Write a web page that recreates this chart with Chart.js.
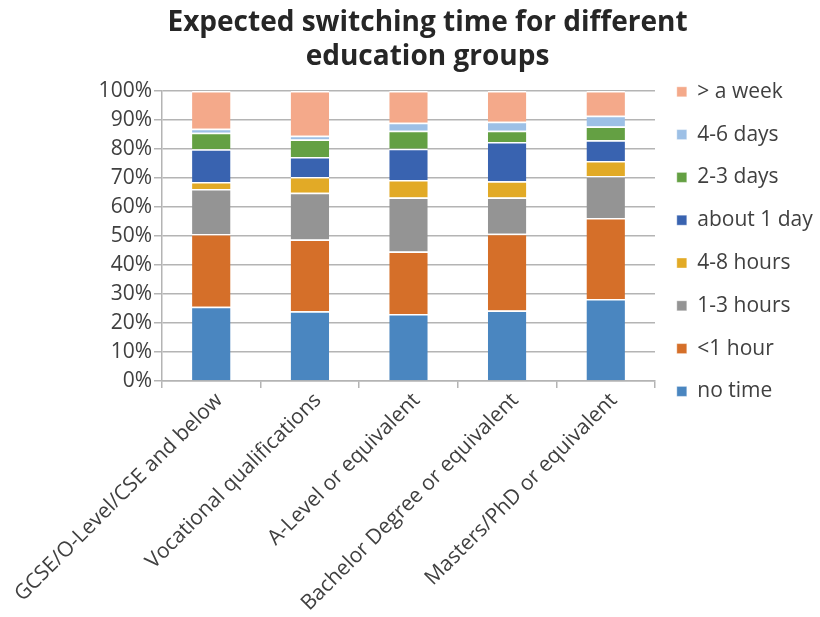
<!DOCTYPE html>
<html>
<head>
<meta charset="utf-8">
<script src="https://cdn.jsdelivr.net/npm/chart.js@4"></script>
<style>
  body { margin: 0; background: #fff; }
</style>
</head>
<body>
<canvas id="switch-chart" width="820" height="617"></canvas>
<script>
// Education groups (x axis)
const groups = [
    "GCSE/O-Level/CSE and below",
    "Vocational qualifications",
    "A-Level or equivalent",
    "Bachelor Degree or equivalent",
    "Masters/PhD or equivalent"
]

// Share of respondents (%) per switching time
const noTime       = [25.6, 24.1, 23.1, 24.3, 28.3]
const underHour    = [25.1, 24.7, 21.6, 26.5, 27.9]
const oneToThreeH  = [15.5, 16.1, 18.6, 12.5, 14.5]
const fourToEightH = [2.4, 5.5, 6.0, 5.6, 5.2]
const aboutOneDay  = [11.3, 6.9, 10.8, 13.5, 7.1]
const twoToThreeD  = [5.7, 6.0, 6.2, 3.9, 4.8]
const fourToSixD   = [1.4, 1.3, 2.8, 3.1, 3.7]
const overWeek     = [13.0, 15.4, 10.9, 10.6, 8.5]

const yTicks = [0, 10, 20, 30, 40, 50, 60, 70, 80, 90, 100]

const textColor = '#404040'
const gridColor = '#b4b4b4'
const font = "'Open Sans', sans-serif"

function series(label, data, color) {
    return {
        label: label,
        data: data,
        backgroundColor: color,
        borderColor: '#ffffff',
        borderWidth: { top: 1.5, bottom: 0, left: 0, right: 0 },
        borderSkipped: false,
        barPercentage: 0.39,
        categoryPercentage: 1
    }
}

ctx = document.getElementById("switch-chart")
const switchChart = new Chart(ctx, {
    type: "bar",
    data: {
        labels: groups,
        datasets: [
            series("no time", noTime, '#4a86c0'),
            series("<1 hour", underHour, '#d56f29'),
            series("1-3 hours", oneToThreeH, '#949494'),
            series("4-8 hours", fourToEightH, '#e2aa26'),
            series("about 1 day", aboutOneDay, '#3963b0'),
            series("2-3 days", twoToThreeD, '#64a043'),
            series("4-6 days", fourToSixD, '#9dc0e6'),
            series("> a week", overWeek, '#f4a98a')
        ]
    },
    options: {
        responsive: false,
        animation: false,
        layout: {
            padding: { left: 30, right: -5, top: 0, bottom: 0 }
        },
        scales: {
            x: {
                stacked: true,
                grid: {
                    drawOnChartArea: false,
                    color: gridColor,
                    lineWidth: 1.5,
                    tickLength: 7
                },
                border: { color: gridColor, width: 1.5 },
                ticks: {
                    color: textColor,
                    font: { family: font, size: 21 },
                    minRotation: 45,
                    maxRotation: 45,
                    padding: 0,
                    labelOffset: 8
                },
                // keep the plot where the original has it
                afterFit: scale => {
                    scale.paddingLeft = 162
                    scale.paddingRight = 165
                    scale.height = 236
                }
            },
            y: {
                stacked: true,
                min: 0,
                max: 100,
                afterBuildTicks: axis => {
                    axis.ticks = yTicks.map(v => ({ value: v }))
                },
                grid: {
                    color: gridColor,
                    lineWidth: 1.5,
                    tickLength: 8
                },
                border: { color: gridColor, width: 1.5 },
                ticks: {
                    color: textColor,
                    font: { family: font, size: 21 },
                    padding: 2,
                    callback: v => v + '%'
                }
            }
        },
        plugins: {
            title: {
                display: true,
                text: ["Expected switching time for different", "education groups"],
                color: '#262626',
                font: { family: font, size: 28, weight: 'bold', lineHeight: 1.18 },
                padding: { top: 7, bottom: 18 }
            },
            legend: {
                position: 'right',
                align: 'start',
                reverse: true,
                title: {
                    display: true,
                    text: ' ',
                    font: { size: 10, lineHeight: 1.2 },
                    padding: { top: 47.5, bottom: 0 }
                },
                labels: {
                    color: textColor,
                    font: { family: font, size: 21 },
                    boxWidth: 10,
                    boxHeight: 10,
                    padding: 21.8
                }
            },
            tooltip: { enabled: false }
        }
    }
})
</script>
</body>
</html>
